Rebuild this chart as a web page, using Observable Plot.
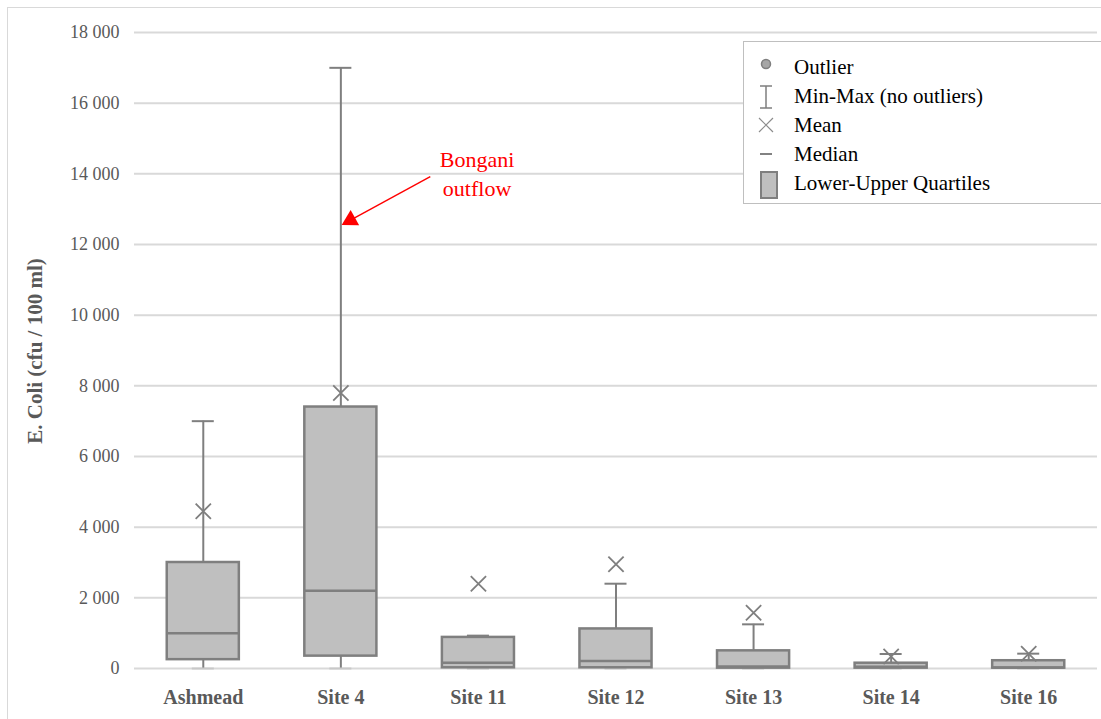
<!DOCTYPE html>
<html><head><meta charset="utf-8">
<script src="https://cdn.jsdelivr.net/npm/d3@7"></script>
<script src="https://cdn.jsdelivr.net/npm/@observablehq/plot@0.6"></script>
<style>
body{margin:0;background:#fff;}
#wrap{position:relative;width:1101px;height:719px;font-family:"Liberation Serif","Tinos","DejaVu Serif",serif;}
#border{position:absolute;left:7px;top:7px;width:1100px;height:720px;border:1px solid #d9d9d9;box-sizing:border-box;}
#chart{position:absolute;left:0;top:0;}
#legend{position:absolute;left:743px;top:41px;width:359px;height:163px;border:1px solid #bfbfbf;box-sizing:border-box;background:#fff;font-family:"Liberation Serif","Tinos","DejaVu Serif",serif;font-size:21px;color:#000;}
.li{position:absolute;left:0;height:29px;width:100%;}
.li svg{position:absolute;left:10px;top:0;}
.li span{position:absolute;left:50px;top:2px;line-height:24px;}
#ylab{position:absolute;left:35px;top:351px;transform:translate(-50%,-50%) rotate(-90deg);font-family:"Liberation Serif","Tinos","DejaVu Serif",serif;font-weight:bold;font-size:21px;color:#595959;white-space:nowrap;}
</style></head>
<body>
<div id="wrap">
<div id="border"></div>
<div id="chart"></div>
<div id="ylab">E. Coli (cfu / 100 ml)</div>
<div id="legend">
 <div class="li" style="top:11px"><svg width="30" height="29"><circle cx="12" cy="11" r="4.5" fill="#a6a6a6" stroke="#7f7f7f" stroke-width="1.5"/></svg><span>Outlier</span></div>
 <div class="li" style="top:40px"><svg width="30" height="29"><path d="M6,4H18M12,4V26M6,26H18" stroke="#7f7f7f" stroke-width="1.5" fill="none"/></svg><span>Min-Max (no outliers)</span></div>
 <div class="li" style="top:69px"><svg width="30" height="29"><path d="M5,7L19,21M19,7L5,21" stroke="#8c8c8c" stroke-width="1.2" fill="none"/></svg><span>Mean</span></div>
 <div class="li" style="top:98px"><svg width="30" height="29"><path d="M6,14H18" stroke="#595959" stroke-width="1.5" fill="none"/></svg><span>Median</span></div>
 <div class="li" style="top:127px"><svg width="30" height="32"><rect x="7" y="3" width="16" height="26" fill="#bfbfbf" stroke="#7f7f7f" stroke-width="2"/></svg><span>Lower-Upper Quartiles</span></div>
</div>
</div>
<script>
const sites   = ["Ashmead","Site 4","Site 11","Site 12","Site 13","Site 14","Site 16"];
const minVals = [0, 0, 0, 0, 0, 0, 0];
const q1Vals  = [250, 350, 20, 20, 10, 10, 10];
const medVals = [1000, 2200, 160, 210, 60, 50, 30];
const q3Vals  = [3000, 7400, 880, 1120, 500, 150, 220];
const maxVals = [7000, 17000, 930, 2400, 1250, 410, 420];
const meanVals= [4450, 7800, 2400, 2950, 1580, 340, 420];
const yTicks  = [0,2000,4000,6000,8000,10000,12000,14000,16000,18000];
const annotation = {label: "Bongani\noutflow", fromX: 1.65, fromY: 13920, toX: 1.018, toY: 12600, headX: 1.07, headY: 12690, textX: 1.99, textY: 14050};

const data = sites.map((s,i)=>({i, site:s, min:minVals[i], q1:q1Vals[i], med:medVals[i], q3:q3Vals[i], max:maxVals[i], mean:meanVals[i]}));
const hw = 0.262, cw = 0.08;
const fmt = d => d3.format(",")(d).replace(/,/g," ");
const grey = "#7f7f7f";
const serif = '"Liberation Serif","Tinos","DejaVu Serif",serif';

const chart = Plot.plot({
  width: 1101, height: 719,
  marginLeft: 134, marginRight: 4, marginTop: 32, marginBottom: 51,
  style: {fontFamily: serif, background: "transparent"},
  x: {type: "linear", domain: [-0.5, 6.5], axis: null},
  y: {domain: [0, 18000], axis: null},
  marks: [
    Plot.ruleY(yTicks, {stroke: "#d9d9d9", strokeWidth: 2}),
    Plot.text(yTicks, {x: -0.5, y: d=>d, text: d=>fmt(d), textAnchor: "end", dx: -15, fontSize: 18, fill: "#595959", fontFamily: serif}),
    Plot.text(data, {x: "i", y: 0, text: "site", dy: 29, fontSize: 20, fontWeight: "bold", fill: "#595959", fontFamily: serif}),
    // lower whisker + cap
    Plot.ruleX(data, {x: "i", y1: "min", y2: "q1", stroke: grey, strokeWidth: 2}),
    Plot.ruleY(data, {x1: d=>d.i-cw, x2: d=>d.i+cw, y: "min", stroke: "#c8c8c8", strokeWidth: 2}),
    // upper whisker + cap
    Plot.ruleX(data, {x: "i", y1: "q3", y2: "max", stroke: grey, strokeWidth: 2}),
    Plot.ruleY(data, {x1: d=>d.i-cw, x2: d=>d.i+cw, y: "max", stroke: grey, strokeWidth: 2}),
    // box
    Plot.rect(data, {x1: d=>d.i-hw, x2: d=>d.i+hw, y1: "q1", y2: "q3", fill: "#bfbfbf", stroke: grey, strokeWidth: 2.5}),
    Plot.ruleY(data, {x1: d=>d.i-hw, x2: d=>d.i+hw, y: "med", stroke: grey, strokeWidth: 2.5}),
    // mean
    Plot.dot(data, {x: "i", y: "mean", symbol: "times", r: 7, stroke: grey, strokeWidth: 1.8}),
    // annotation
    Plot.link([annotation], {x1: "fromX", y1: "fromY", x2: "headX", y2: "headY", stroke: "red", strokeWidth: 1.4}),
    Plot.dot([annotation], {x: "headX", y: "headY", symbol: "triangle", r: 6.5, fill: "red", stroke: "none", rotate: 241}),
    Plot.text([annotation], {x: "textX", y: "textY", text: "label", fill: "red", fontSize: 22, lineHeight: 1.3, fontFamily: serif})
  ]
});
document.getElementById("chart").appendChild(chart);
</script>
</body></html>
